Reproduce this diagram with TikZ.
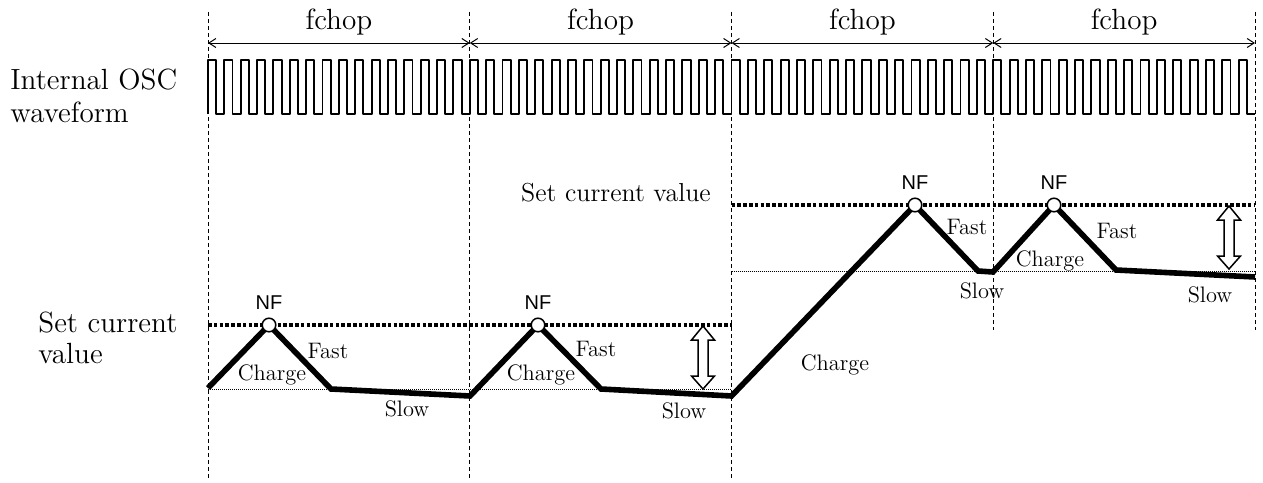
\documentclass[tikz,border=0pt]{standalone}
\usepackage{fontspec}
\newfontfamily\nffont{Liberation Sans}
\usetikzlibrary{arrows.meta}
\begin{document}
\begin{tikzpicture}[x=0.5pt,y=-0.5pt,
  vline/.style={line width=0.5pt, dash pattern=on 2pt off 1.5pt},
  fch/.style={line width=0.5pt, {Straight Barb[length=3.5pt,width=4.5pt]}-{Straight Barb[length=3.5pt,width=4.5pt]}},
  osc/.style={line width=0.95pt, line join=round},
  cur/.style={line width=2.8pt, line join=miter},
  setline/.style={line width=1.6pt, dash pattern=on 1.8pt off 1.1pt},
  zeroline/.style={line width=0.5pt, dash pattern=on 0.5pt off 0.5pt},
  nfc/.style={circle, draw, line width=0.75pt, fill=white, inner sep=0pt, minimum size=6.8pt},
  nft/.style={font=\nffont\fontsize{10}{12}\selectfont, anchor=base, inner sep=0pt},
  big/.style={font=\fontsize{14.6}{16.5}\selectfont, inner sep=0pt, anchor=base west},
  bigc/.style={font=\fontsize{14.6}{16.5}\selectfont, inner sep=0pt, anchor=base},
  small/.style={font=\fontsize{11.2}{13}\selectfont, inner sep=0pt, anchor=base},
  dbl/.style={draw, line width=0.75pt, fill=white, line join=miter}
]
\useasboundingbox (0,0) rectangle (1263,482);

% vertical dashed period lines
\foreach \i/\x in {0/208,1/469.75,2/731.5,3/993.25,4/1255}{
  \coordinate (top\i) at (\x,12);
  \coordinate (ar\i) at (\x,43);
}
\coordinate (bot0) at (208,478);
\coordinate (bot1) at (469.75,478);
\coordinate (bot2) at (731.5,478);
\coordinate (bot3) at (993.25,330);
\coordinate (bot4) at (1255,330);
\foreach \i in {0,...,4}{ \draw[vline] (top\i) -- (bot\i); }

% fchop arrows and labels
\draw[fch] (ar0) -- (ar1);
\draw[fch] (ar1) -- (ar2);
\draw[fch] (ar2) -- (ar3);
\draw[fch] (ar3) -- (ar4);
\node[bigc] (f1) at (338.9,29) {fchop};
\node[bigc] (f2) at (600.6,29) {fchop};
\node[bigc] (f3) at (862.4,29) {fchop};
\node[bigc] (f4) at (1124.1,29) {fchop};

% internal oscillator waveform
\pgfmathsetmacro{\cyc}{1047/64}
\draw[osc] (208,114) foreach \i in {0,...,63} {
  -- ({208+\i*\cyc},60) -- ({208+(\i+0.5)*\cyc},60)
  -- ({208+(\i+0.5)*\cyc},114) -- ({208+(\i+1)*\cyc},114) };

% left labels
\node[big] (osc1) at (10,89) {Internal OSC};
\node[big] (osc2) at (10,122) {waveform};
\node[big] (scv1) at (38,332) {Set current};
\node[big] (scv2) at (38,363) {value};

% reference lines
\coordinate (sl0) at (208,325);
\coordinate (sl1) at (731.5,325);
\coordinate (sr0) at (731.5,205);
\coordinate (sr1) at (1255,205);
\coordinate (zl0) at (208,389);
\coordinate (zl1) at (731.5,389);
\coordinate (zr0) at (731.5,271);
\coordinate (zr1) at (1255,271);
\draw[zeroline] (zl0) -- (zl1);
\draw[zeroline] (zr0) -- (zr1);
\draw[setline] (sl0) -- (sl1);
\draw[setline] (sr0) -- (sr1);

% current waveform
\coordinate (p0) at (208,388);
\coordinate (pk1) at (269,325);
\coordinate (p1) at (331,389);
\coordinate (p2) at (470,396);
\coordinate (pk2) at (538,325);
\coordinate (p3) at (601,389);
\coordinate (p4) at (731.5,396);
\coordinate (pk3) at (915,205);
\coordinate (p5) at (978,271);
\coordinate (p6) at (993,272);
\coordinate (pk4) at (1054,205);
\coordinate (p7) at (1116,270);
\coordinate (p8) at (1255,277);
\draw[cur] (p0) -- (pk1) -- (p1) -- (p2) -- (pk2) -- (p3) -- (p4) -- (pk3) -- (p5) -- (p6) -- (pk4) -- (p7) -- (p8);

% NF circles and labels
\foreach \k in {1,...,4}{
  \node[nfc] (nf\k) at (pk\k) {};
  \node[nft] (nft\k) at ([yshift=8pt]pk\k) {NF};
}

% double arrows
\draw[dbl] (703,326) -- (714.5,340) -- (708,340) -- (708,376) -- (714.5,376) -- (703,389)
  -- (691.5,376) -- (698,376) -- (698,340) -- (691.5,340) -- cycle;
\draw[dbl] (1229,206) -- (1240.5,220) -- (1234,220) -- (1234,256) -- (1240.5,256) -- (1229,269)
  -- (1217.5,256) -- (1224,256) -- (1224,220) -- (1217.5,220) -- cycle;

% small labels
\node[small] (c1) at (272,380) {Charge};
\node[small] (fa1) at (328,358) {Fast};
\node[small] (s1) at (407,416) {Slow};
\node[small] (c2) at (541,380) {Charge};
\node[small] (fa2) at (596,356) {Fast};
\node[small] (s2) at (684,418) {Slow};
\node[small] (c3) at (835,370) {Charge};
\node[small] (fa3) at (967,234) {Fast};
\node[small] (s3) at (982,298) {Slow};
\node[small] (c4) at (1050,266) {Charge};
\node[small] (fa4) at (1117,238) {Fast};
\node[small] (s4) at (1210,302) {Slow};
\node[small, font=\fontsize{13}{15}\selectfont] (scvs) at (616,201) {Set current value};
\end{tikzpicture}
\end{document}
